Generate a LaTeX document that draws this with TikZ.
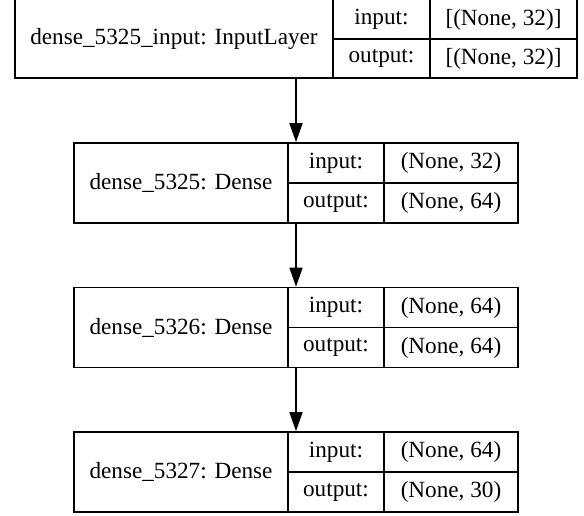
\documentclass[tikz,border=0pt]{standalone}
\usepackage{fontspec}
\setmainfont{Liberation Serif}
\usetikzlibrary{arrows.meta}

\begin{document}
\begin{tikzpicture}[x=1pt, y=-1pt, line width=1.6pt,
    cell/.style={inner sep=0pt, font=\fontsize{23.2}{26}\selectfont},
    frame/.style={draw, inner sep=0pt, minimum height=80pt},
    link/.style={-{Triangle[length=19pt, width=13pt]}}]
  \useasboundingbox (0,0) rectangle (584,516);

  % input layer
  \node[frame, minimum width=562pt] (in) at (296,38) {};
  \draw (333,-2) -- (333,78) (430,-2) -- (430,78) (333,39) -- (577,39);
  \node[cell] (inname) at (174,39) {dense\_5325\_input: InputLayer};
  \node[cell] (inin) at (381.5,19.5) {input:};
  \node[cell] (inout) at (381.5,58.5) {output:};
  \node[cell] (ininv) at (503.5,19.5) {[(None, 32)]};
  \node[cell] (inoutv) at (503.5,58.5) {[(None, 32)]};

  % dense layers
  \foreach \n/\y/\a/\b in {5325/183/32/64, 5326/327.5/64/64, 5327/472/64/30} {
    \node[frame, minimum width=444pt] (d\n) at (296,\y) {};
    \draw (288,\y-40) -- (288,\y+40) (384,\y-40) -- (384,\y+40)
      (288,\y) -- (518,\y);
    \node[cell] (d\n name) at (181,\y) {dense\_\n: Dense};
    \node[cell] (d\n in) at (336,\y-20) {input:};
    \node[cell] (d\n out) at (336,\y+20) {output:};
    \node[cell] (d\n inv) at (451,\y-20) {(None, \a)};
    \node[cell] (d\n outv) at (451,\y+20) {(None, \b)};
  }

  \draw[link] (in) -- (d5325);
  \draw[link] (d5325) -- (d5326);
  \draw[link] (d5326) -- (d5327);
\end{tikzpicture}
\end{document}
